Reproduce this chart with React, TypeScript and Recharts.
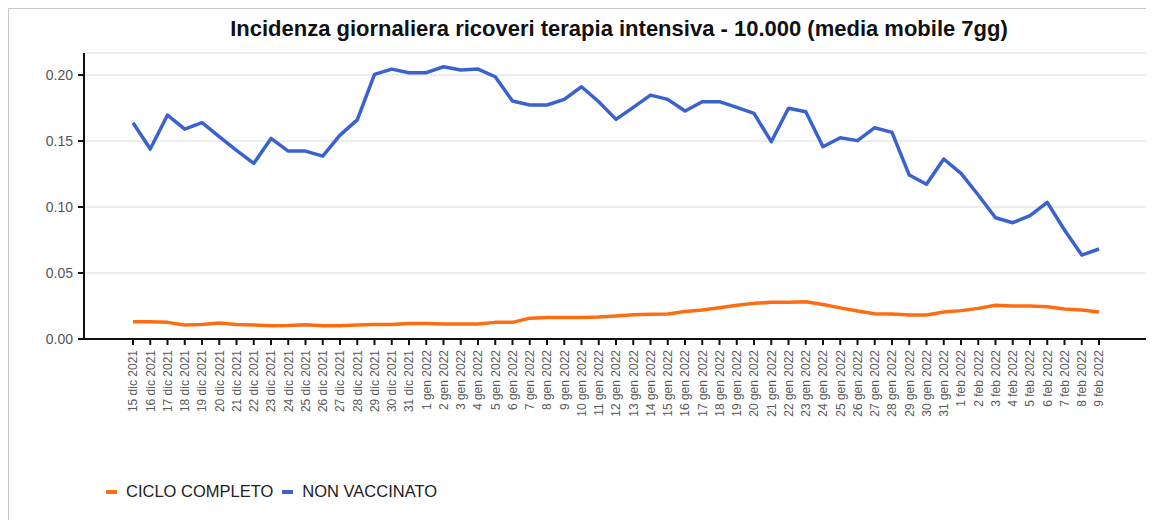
import { LineChart, Line, XAxis, YAxis, CartesianGrid } from 'recharts';

const dates = [
  '15 dic 2021', '16 dic 2021', '17 dic 2021', '18 dic 2021', '19 dic 2021', '20 dic 2021',
  '21 dic 2021', '22 dic 2021', '23 dic 2021', '24 dic 2021', '25 dic 2021', '26 dic 2021',
  '27 dic 2021', '28 dic 2021', '29 dic 2021', '30 dic 2021', '31 dic 2021',
  '1 gen 2022', '2 gen 2022', '3 gen 2022', '4 gen 2022', '5 gen 2022', '6 gen 2022',
  '7 gen 2022', '8 gen 2022', '9 gen 2022', '10 gen 2022', '11 gen 2022', '12 gen 2022',
  '13 gen 2022', '14 gen 2022', '15 gen 2022', '16 gen 2022', '17 gen 2022', '18 gen 2022',
  '19 gen 2022', '20 gen 2022', '21 gen 2022', '22 gen 2022', '23 gen 2022', '24 gen 2022',
  '25 gen 2022', '26 gen 2022', '27 gen 2022', '28 gen 2022', '29 gen 2022', '30 gen 2022',
  '31 gen 2022', '1 feb 2022', '2 feb 2022', '3 feb 2022', '4 feb 2022', '5 feb 2022',
  '6 feb 2022', '7 feb 2022', '8 feb 2022', '9 feb 2022',
];

// ciclo completo (orange)
const cicloCompleto = [
  0.0131, 0.0131, 0.0126, 0.0106, 0.011, 0.0121, 0.011, 0.0106, 0.0101, 0.0103, 0.0108, 0.0101,
  0.0101, 0.0106, 0.011, 0.011, 0.0118, 0.0118, 0.0113, 0.0113, 0.0113, 0.0126, 0.0126,
  0.0158, 0.0162, 0.0162, 0.0162, 0.0166, 0.0174, 0.0183, 0.0187, 0.019, 0.0208, 0.022,
  0.0237, 0.0255, 0.027, 0.0278, 0.0278, 0.0283, 0.0262, 0.0236, 0.0212, 0.0192, 0.019,
  0.0182, 0.0182, 0.0205, 0.0215, 0.0232, 0.0256, 0.025, 0.025, 0.0245, 0.0227, 0.022, 0.0205,
];

// non vaccinato (blue)
const nonVaccinato = [
  0.1639, 0.1439, 0.1697, 0.159, 0.1639, 0.1533, 0.143, 0.133, 0.152, 0.1424, 0.1424, 0.1386,
  0.1545, 0.166, 0.2005, 0.2045, 0.2018, 0.2018, 0.2063, 0.2038, 0.2045, 0.1987, 0.1803,
  0.1773, 0.1773, 0.1816, 0.1911, 0.1798, 0.1664, 0.1755, 0.1848, 0.1816, 0.1727, 0.1798,
  0.1798, 0.1755, 0.171, 0.1495, 0.1748, 0.1722, 0.1457, 0.1525, 0.1503, 0.1601, 0.1566,
  0.1242, 0.1172, 0.1364, 0.1255, 0.1091, 0.0919, 0.0881, 0.0934, 0.1035, 0.0826, 0.0636, 0.0682,
];

const yTicks = [0, 0.05, 0.1, 0.15, 0.2];

const ORANGE = '#ff6d12';
const BLUE = '#3a62cf';
const FONT = '"Liberation Sans", Arial, sans-serif';

const data = dates.map((date, i) => ({
  date,
  ciclo: cicloCompleto[i],
  non: nonVaccinato[i],
}));

const DateTick = (props: any) => {
  const { x, y, payload } = props;
  return (
    <g transform={`translate(${x},${y})`}>
      <text
        transform="rotate(-90)"
        textAnchor="end"
        dy="0.36em"
        fontSize={12}
        fontFamily={FONT}
        fill="#5a5a5a"
      >
        {payload.value}
      </text>
    </g>
  );
};

const legendItems = [
  { label: 'CICLO COMPLETO', color: ORANGE },
  { label: 'NON VACCINATO', color: BLUE },
];

export default function App() {
  return (
    <div
      style={{
        position: 'relative',
        width: 1145,
        height: 511,
        borderTop: '2px solid #c8c8c8',
        borderLeft: '2px solid #c8c8c8',
        marginLeft: -1,
        marginTop: -1,
        background: '#fff',
        fontFamily: FONT,
      }}
    >
      <div
        style={{
          position: 'absolute',
          top: 7,
          left: 0,
          width: 1220,
          textAlign: 'center',
          fontSize: 22,
          fontWeight: 'bold',
          color: '#111',
        }}
      >
        Incidenza giornaliera ricoveri terapia intensiva - 10.000 (media mobile 7gg)
      </div>
      <LineChart
        width={1140}
        height={505}
        data={data}
        margin={{ top: 44, right: 2, bottom: 0, left: 0 }}
      >
        <CartesianGrid vertical={false} stroke="#dcdcdc" strokeWidth={1} />
        <XAxis
          dataKey="date"
          interval={0}
          padding={{ left: 49, right: 48 }}
          height={175}
          axisLine={{ stroke: '#111', strokeWidth: 2 }}
          tickLine={{ stroke: '#111', strokeWidth: 2 }}
          tickSize={6}
          tickMargin={5}
          tick={<DateTick />}
        />
        <YAxis
          width={75}
          domain={[0, 0.2167]}
          ticks={yTicks}
          tickFormatter={(v: number) => v.toFixed(2)}
          axisLine={{ stroke: '#111', strokeWidth: 2 }}
          tickLine={{ stroke: '#111', strokeWidth: 2 }}
          tickSize={6}
          tickMargin={5}
          tick={{ fontSize: 14, fill: '#555', fontFamily: FONT }}
        />
        <Line
          dataKey="ciclo"
          stroke={ORANGE}
          strokeWidth={3.5}
          dot={false}
          isAnimationActive={false}
          strokeLinejoin="round"
        />
        <Line
          dataKey="non"
          stroke={BLUE}
          strokeWidth={3.5}
          dot={false}
          isAnimationActive={false}
          strokeLinejoin="round"
        />
      </LineChart>
      <div
        style={{
          position: 'absolute',
          top: 473,
          left: 97,
          display: 'flex',
          alignItems: 'center',
          fontSize: 16.5,
          color: '#222',
        }}
      >
        {legendItems.map((item) => (
          <div key={item.label} style={{ display: 'flex', alignItems: 'center', marginRight: 9 }}>
            <span
              style={{
                display: 'inline-block',
                width: 11,
                height: 4,
                background: item.color,
                marginRight: 9,
              }}
            />
            {item.label}
          </div>
        ))}
      </div>
    </div>
  );
}
